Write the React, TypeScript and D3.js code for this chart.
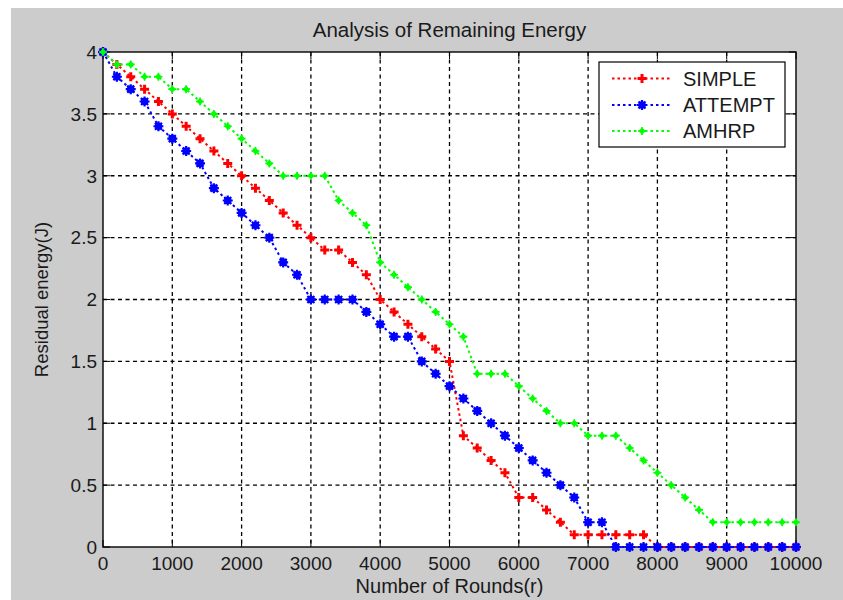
import React from "react";
import * as d3 from "d3";

const rounds = [0, 200, 400, 600, 800, 1000, 1200, 1400, 1600, 1800, 2000, 2200, 2400, 2600, 2800, 3000, 3200, 3400, 3600, 3800, 4000, 4200, 4400, 4600, 4800, 5000, 5200, 5400, 5600, 5800, 6000, 6200, 6400, 6600, 6800, 7000, 7200, 7400, 7600, 7800, 8000, 8200, 8400, 8600, 8800, 9000, 9200, 9400, 9600, 9800, 10000];

const simple = [4, 3.9, 3.8, 3.7, 3.6, 3.5, 3.4, 3.3, 3.2, 3.1, 3.0, 2.9, 2.8, 2.7, 2.6, 2.5, 2.4, 2.4, 2.3, 2.2, 2.0, 1.9, 1.8, 1.7, 1.6, 1.5, 0.9, 0.8, 0.7, 0.6, 0.4, 0.4, 0.3, 0.2, 0.1, 0.1, 0.1, 0.1, 0.1, 0.1, 0, 0, 0, 0, 0, 0, 0, 0, 0, 0, 0];

const attempt = [4, 3.8, 3.7, 3.6, 3.4, 3.3, 3.2, 3.1, 2.9, 2.8, 2.7, 2.6, 2.5, 2.3, 2.2, 2.0, 2.0, 2.0, 2.0, 1.9, 1.8, 1.7, 1.7, 1.5, 1.4, 1.3, 1.2, 1.1, 1.0, 0.9, 0.8, 0.7, 0.6, 0.5, 0.4, 0.2, 0.2, 0, 0, 0, 0, 0, 0, 0, 0, 0, 0, 0, 0, 0, 0];

const amhrp = [4, 3.9, 3.9, 3.8, 3.8, 3.7, 3.7, 3.6, 3.5, 3.4, 3.3, 3.2, 3.1, 3.0, 3.0, 3.0, 3.0, 2.8, 2.7, 2.6, 2.3, 2.2, 2.1, 2.0, 1.9, 1.8, 1.7, 1.4, 1.4, 1.4, 1.3, 1.2, 1.1, 1.0, 1.0, 0.9, 0.9, 0.9, 0.8, 0.7, 0.6, 0.5, 0.4, 0.3, 0.2, 0.2, 0.2, 0.2, 0.2, 0.2, 0.2];

const seriesNames = ["SIMPLE", "ATTEMPT", "AMHRP"];
const seriesColors = ["#ff0000", "#0000ff", "#00ff00"];
const seriesMarkers = ["plus", "blob", "diamond"];

const xTicks = [0, 1000, 2000, 3000, 4000, 5000, 6000, 7000, 8000, 9000, 10000];
const yTicks = [0, 0.5, 1, 1.5, 2, 2.5, 3, 3.5, 4];
const yTickLabels = ["0", "0.5", "1", "1.5", "2", "2.5", "3", "3.5", "4"];

const titleText = "Analysis of Remaining Energy";
const xLabelText = "Number of Rounds(r)";
const yLabelText = "Residual energy(J)";

const FONT = "'Liberation Sans', Arial, sans-serif";
const TEXT_COLOR = "#1a1a1a";

function Marker({ type, x, y, color }: { type: string; x: number; y: number; color: string }) {
  if (type === "plus") {
    return (
      <path
        d={`M${x - 4.5},${y}H${x + 4.5}M${x},${y - 4.5}V${y + 4.5}`}
        stroke={color}
        strokeWidth={3}
        fill="none"
      />
    );
  }
  if (type === "blob") {
    return (
      <g>
        <circle cx={x} cy={y} r={3.8} fill={color} />
        <path
          d={`M${x - 5},${y}H${x + 5}M${x},${y - 5}V${y + 5}M${x - 3.5},${y - 3.5}L${x + 3.5},${y + 3.5}M${x - 3.5},${y + 3.5}L${x + 3.5},${y - 3.5}`}
          stroke={color}
          strokeWidth={2.2}
          fill="none"
        />
      </g>
    );
  }
  return (
    <g>
      <path d={`M${x},${y - 3.6}L${x + 3.6},${y}L${x},${y + 3.6}L${x - 3.6},${y}Z`} fill={color} />
      <path d={`M${x - 4},${y}H${x + 4}M${x},${y - 4}V${y + 4}`} stroke={color} strokeWidth={1.6} fill="none" />
    </g>
  );
}

export default function App() {
  const left = 103;
  const right = 796;
  const top = 52;
  const bottom = 547;
  const x = d3.scaleLinear().domain([0, 10000]).range([left, right]);
  const y = d3.scaleLinear().domain([0, 4]).range([bottom, top]);

  const allSeries = [simple, attempt, amhrp];
  const line = d3
    .line<number>()
    .x((_, i) => x(rounds[i]))
    .y((d) => y(d));

  const tickLen = 7;

  const legendX = 599;
  const legendY = 62;
  const legendW = 186;
  const legendH = 85;
  const legendRows = [78.5, 105, 131];

  return (
    <svg
      width={843}
      height={600}
      style={{ position: "absolute", left: 0, top: 0 }}
      xmlns="http://www.w3.org/2000/svg"
    >
      <rect x={0} y={0} width={843} height={600} fill="#ffffff" />
      <rect x={11} y={8} width={832} height={592} fill="#cccccc" />
      <rect x={left} y={top} width={right - left} height={bottom - top} fill="#ffffff" />

      {/* grid */}
      {xTicks
        .filter((t) => t !== 0 && t !== 10000)
        .map((t) => (
          <line key={"gx" + t} x1={x(t)} x2={x(t)} y1={top} y2={bottom} stroke="#000" strokeWidth={1.3} strokeDasharray="4,3.5" />
        ))}
      {yTicks
        .filter((t) => t !== 0 && t !== 4)
        .map((t) => (
          <line key={"gy" + t} x1={left} x2={right} y1={y(t)} y2={y(t)} stroke="#000" strokeWidth={1.3} strokeDasharray="4,3.5" />
        ))}

      {/* ticks */}
      {xTicks.map((t) => (
        <g key={"tx" + t}>
          <line x1={x(t)} x2={x(t)} y1={bottom} y2={bottom - tickLen} stroke="#000" />
          <line x1={x(t)} x2={x(t)} y1={top} y2={top + tickLen} stroke="#000" />
        </g>
      ))}
      {yTicks.map((t) => (
        <g key={"ty" + t}>
          <line x1={left} x2={left + tickLen} y1={y(t)} y2={y(t)} stroke="#000" />
          <line x1={right} x2={right - tickLen} y1={y(t)} y2={y(t)} stroke="#000" />
        </g>
      ))}

      {/* axes box */}
      <rect x={left} y={top} width={right - left} height={bottom - top} fill="none" stroke="#000" strokeWidth={1.4} />

      {/* series */}
      {allSeries.map((s, si) => (
        <g key={"s" + si}>
          <path d={line(s) || ""} fill="none" stroke={seriesColors[si]} strokeWidth={2} strokeDasharray="2.5,3" />
          {s.map((v, i) => (
            <Marker key={i} type={seriesMarkers[si]} x={x(rounds[i])} y={y(v)} color={seriesColors[si]} />
          ))}
        </g>
      ))}

      {/* tick labels */}
      {xTicks.map((t) => (
        <text key={"lx" + t} x={x(t)} y={570} textAnchor="middle" fontFamily={FONT} fontSize={19} fill={TEXT_COLOR}>
          {String(t)}
        </text>
      ))}
      {yTicks.map((t, i) => (
        <text key={"ly" + t} x={97} y={y(t)} dy="0.36em" textAnchor="end" fontFamily={FONT} fontSize={19} fill={TEXT_COLOR}>
          {yTickLabels[i]}
        </text>
      ))}

      {/* title and labels */}
      <text x={(left + right) / 2} y={37} textAnchor="middle" fontFamily={FONT} fontSize={20.5} fill={TEXT_COLOR}>
        {titleText}
      </text>
      <text x={(left + right) / 2} y={593} textAnchor="middle" fontFamily={FONT} fontSize={20} fill={TEXT_COLOR}>
        {xLabelText}
      </text>
      <text
        transform={`translate(48,${(top + bottom) / 2}) rotate(-90)`}
        textAnchor="middle"
        fontFamily={FONT}
        fontSize={18.5}
        fill={TEXT_COLOR}
      >
        {yLabelText}
      </text>

      {/* legend */}
      <rect x={legendX} y={legendY} width={legendW} height={legendH} fill="#ffffff" stroke="#000" strokeWidth={1.2} />
      {seriesNames.map((name, i) => (
        <g key={"lg" + i}>
          <line x1={612} x2={672} y1={legendRows[i]} y2={legendRows[i]} stroke={seriesColors[i]} strokeWidth={2} strokeDasharray="2.5,3" />
          <Marker type={seriesMarkers[i]} x={642} y={legendRows[i]} color={seriesColors[i]} />
          <text x={683} y={legendRows[i]} dy="0.36em" fontFamily={FONT} fontSize={20} fill={TEXT_COLOR}>
            {name}
          </text>
        </g>
      ))}
    </svg>
  );
}
